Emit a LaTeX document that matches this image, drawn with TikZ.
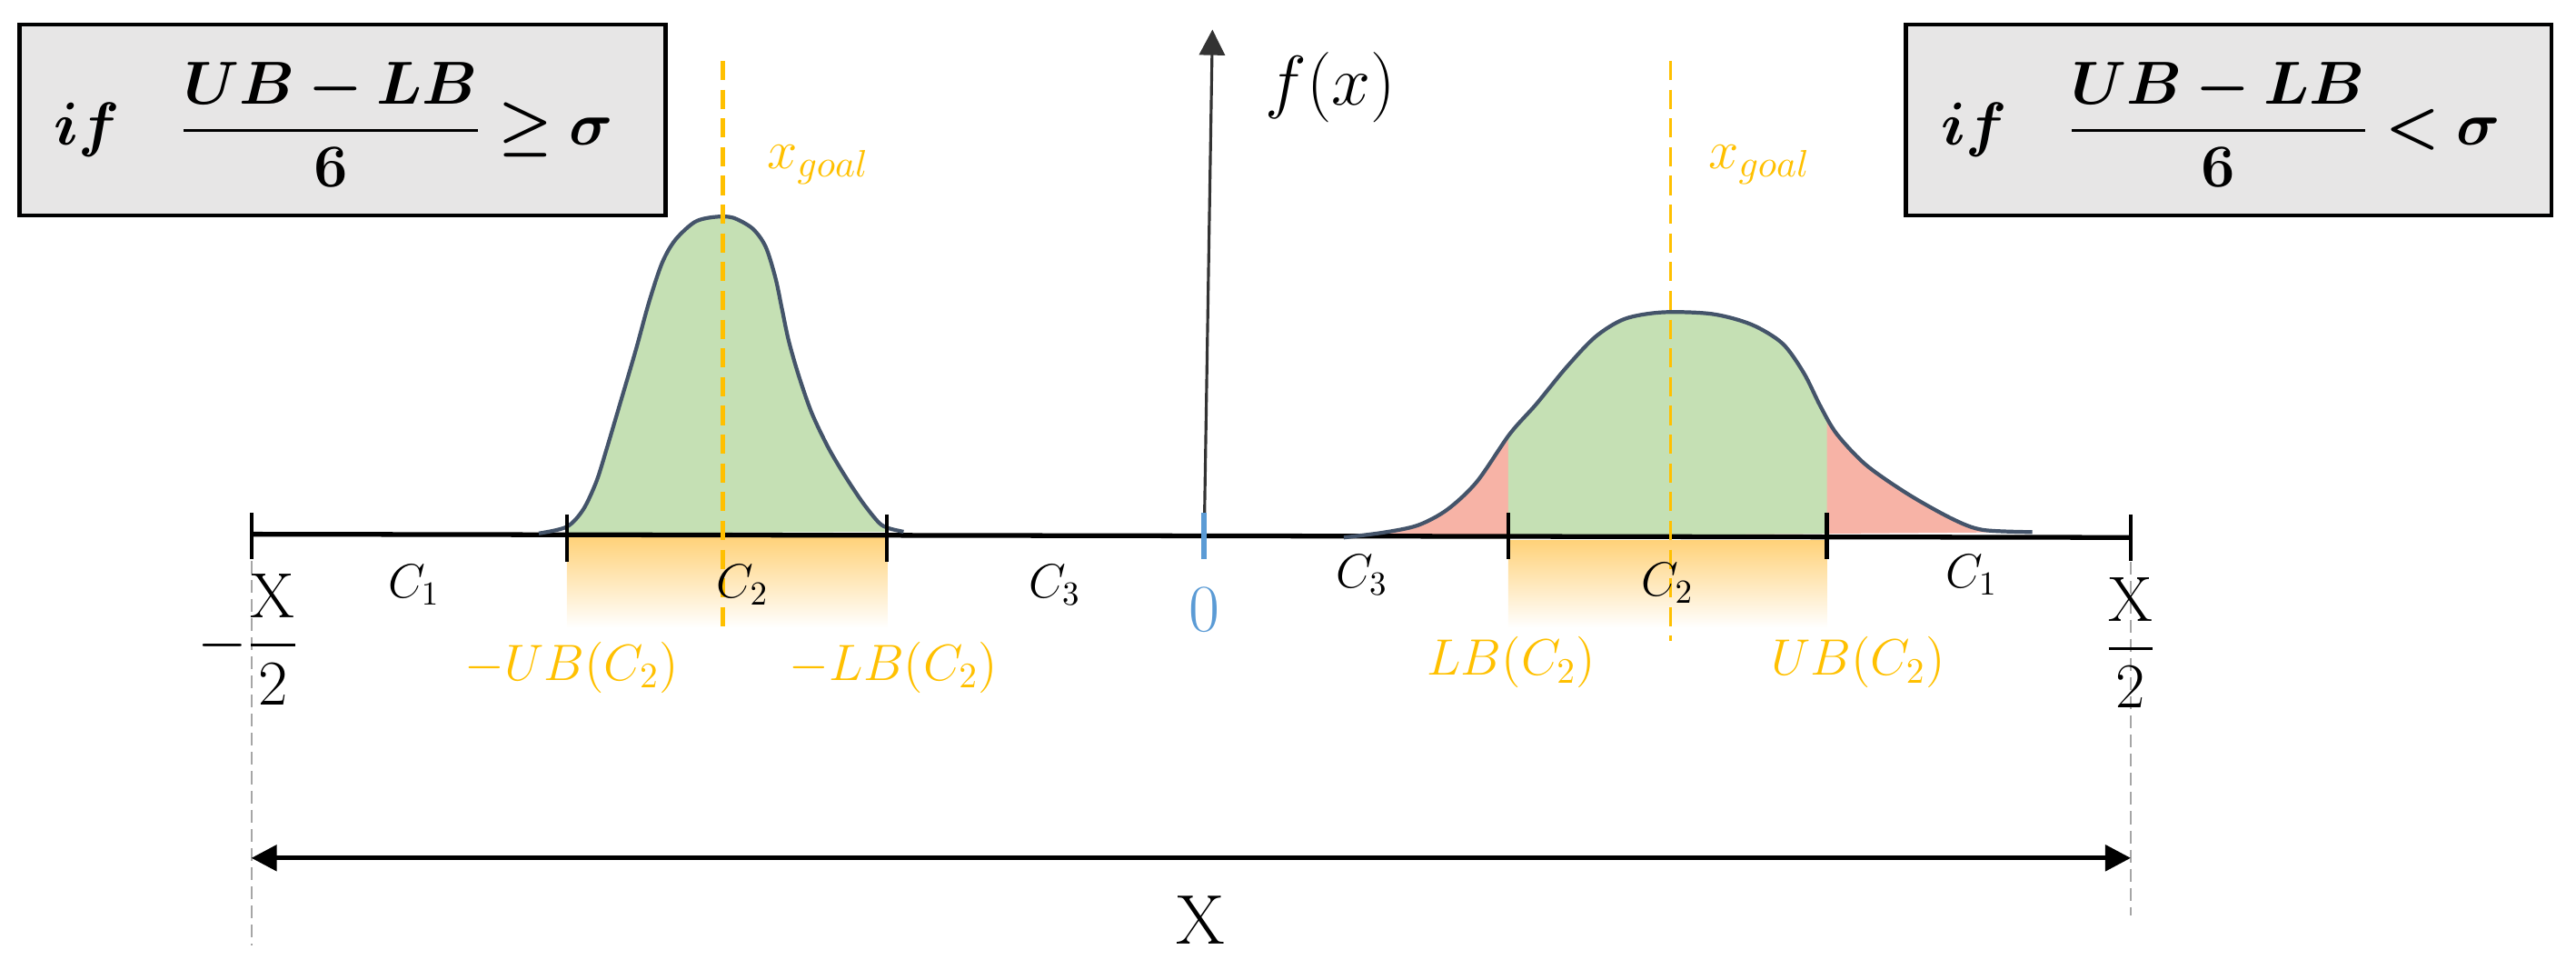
\RequirePackage{fix-cm}
\documentclass[tikz,border=0pt]{standalone}
\usepackage{amsmath,bm}
\usetikzlibrary{arrows.meta}
\definecolor{boxgray}{HTML}{E7E6E6}
\definecolor{gold}{HTML}{FFC000}
\definecolor{greenfill}{HTML}{C5E0B4}
\definecolor{redfill}{HTML}{F7B3A6}
\definecolor{curvecol}{HTML}{44546A}
\definecolor{bluec}{HTML}{5B9BD5}
\definecolor{gradtop}{HTML}{FFD27A}
\newcommand{\condL}{$\bm{if}\quad\dfrac{\bm{UB-LB}}{\bm{6}}\bm{\geq\sigma}$}
\newcommand{\condR}{$\bm{if}\quad\dfrac{\bm{UB-LB}}{\bm{6}}\bm{<\sigma}$}
\begin{document}
\begin{tikzpicture}[x=0.01808cm,y=-0.01808cm,
  condbox/.style={draw=black,line width=1.3pt,fill=boxgray},
  axisline/.style={line width=1.5pt,black},
  tickmark/.style={line width=1.2pt,black},
  goalline/.style={draw=gold,line width=1.2pt,dash pattern=on 6pt off 3pt},
  curveline/.style={draw=curvecol,line width=1.2pt},
  goldlab/.style={text=gold,font=\fontsize{16}{19}\selectfont,inner sep=0pt},
  goallab/.style={text=gold,font=\fontsize{17}{20}\selectfont,inner sep=0pt},
  clab/.style={font=\fontsize{15}{18}\selectfont,inner sep=0pt},
  guide/.style={draw=black!35,line width=0.5pt,dash pattern=on 4pt off 2pt},
  bigfrac/.style={font=\fontsize{20}{24}\selectfont,inner sep=0pt},
  condtext/.style={font=\fontsize{19}{22}\selectfont,inner sep=0pt},
]
\useasboundingbox (0,0) rectangle (1568,590);

% condition boxes
\coordinate (b1a) at (12,15);
\coordinate (b1b) at (405,131);
\coordinate (b2a) at (1160,15);
\coordinate (b2b) at (1553,131);
\draw[condbox] (b1a) rectangle (b1b);
\draw[condbox] (b2a) rectangle (b2b);
\node[condtext] (cl) at (203,76) {\condL};
\node[condtext] (cr) at (1352,76) {\condR};

% gradient bands
\shade[top color=gradtop,bottom color=white] (345,327) rectangle (540,382);
\shade[top color=gradtop,bottom color=white] (918,329) rectangle (1112,382);

% left bell fill
\begin{scope}
\clip (345,0) rectangle (540,330);
\fill[greenfill] plot[smooth] coordinates {(328,324.5) (345,320.5) (355,310) (363,293) (369,274) (377,247) (387,213) (395,184) (403,160) (411,146) (423,135) (435,132) (446,132.4) (458,139) (466,150) (472,169) (476,188) (480,207) (486,228) (494,251) (504,272) (514,289) (525,305.6) (535,318) (541,321.4) (550,323.5)} -- cycle;
\end{scope}

% right bell fill
\fill[redfill] plot[smooth] coordinates {(818,327) (842,324) (863,319.6) (881,310) (899,293) (919,264) (935,246) (953,224) (971,205) (989,194) (1012,190) (1042,191) (1066,197.4) (1085,209) (1098,227) (1108,247) (1118,264) (1136,283) (1162,301) (1189,316) (1207,322.4) (1237,323.7)} -- cycle;
\begin{scope}
\clip (918,0) rectangle (1112,330);
\fill[greenfill] plot[smooth] coordinates {(818,327) (842,324) (863,319.6) (881,310) (899,293) (919,264) (935,246) (953,224) (971,205) (989,194) (1012,190) (1042,191) (1066,197.4) (1085,209) (1098,227) (1108,247) (1118,264) (1136,283) (1162,301) (1189,316) (1207,322.4) (1237,323.7)} -- cycle;
\end{scope}

% horizontal axis
\coordinate (xl) at (153,325);
\coordinate (xr) at (1297,327);
\draw[axisline] (xl) -- (xr);

% curve outlines
\draw[curveline] plot[smooth] coordinates {(328,324.5) (345,320.5) (355,310) (363,293) (369,274) (377,247) (387,213) (395,184) (403,160) (411,146) (423,135) (435,132) (446,132.4) (458,139) (466,150) (472,169) (476,188) (480,207) (486,228) (494,251) (504,272) (514,289) (525,305.6) (535,318) (541,321.4) (550,323.5)};
\draw[curveline] plot[smooth] coordinates {(818,327) (842,324) (863,319.6) (881,310) (899,293) (919,264) (935,246) (953,224) (971,205) (989,194) (1012,190) (1042,191) (1066,197.4) (1085,209) (1098,227) (1108,247) (1118,264) (1136,283) (1162,301) (1189,316) (1207,322.4) (1237,323.7)};

% ticks
\draw[tickmark] (153,312) -- (153,340);
\draw[tickmark] (1297,313) -- (1297,341);
\draw[tickmark] (345,313) -- (345,342);
\draw[tickmark] (540,313) -- (540,342);
\draw[tickmark] (918,312) -- (918,340);
\draw[tickmark] (1112,312) -- (1112,340);

% vertical axis
\coordinate (yb) at (733,325);
\coordinate (yt) at (738,18);
\draw[line width=0.9pt,draw=black!80,-{Triangle[length=8pt,width=8pt]}] (yb) -- (yt);
\draw[bluec,line width=1.8pt] (733,312) -- (733,340);

% goal lines
\draw[goalline] (440,37) -- (440,382);
\draw[goalline,line width=0.8pt] (1017,37) -- (1017,390);

% guides
\draw[guide] (153,341) -- (153,575);
\draw[guide] (1297,342) -- (1297,557);

% width arrow
\coordinate (dl) at (153,522);
\coordinate (dr) at (1297,522);
\draw[line width=1.5pt,{Triangle[length=8pt,width=8pt]}-{Triangle[length=8pt,width=8pt]}] (dl) -- (dr);
\node[font=\fontsize{22}{26}\selectfont,inner sep=0pt] (xw) at (731,560) {X};

% labels
\node[font=\fontsize{22}{26}\selectfont,inner sep=0pt] (fx) at (810,53) {$f(x)$};
\node[goallab] (xgl) at (498,100) {$x_{goal}$};
\node[goallab] (xgr) at (1071,100) {$x_{goal}$};

\node[clab] (c1l) at (252,356) {$C_1$};
\node[clab] (c2l) at (452,356) {$C_2$};
\node[clab] (c3l) at (642,356) {$C_3$};
\node[text=bluec,font=\fontsize{21}{24}\selectfont,inner sep=0pt] (zero) at (733,371) {0};
\node[clab] (c3r) at (829,350) {$C_3$};
\node[clab] (c2r) at (1015,355) {$C_2$};
\node[clab] (c1r) at (1200,350) {$C_1$};

\node[bigfrac] (mx2) at (151,389) {$-\dfrac{\mathrm{X}}{2}$};
\node[bigfrac] (px2) at (1297,391) {$\dfrac{\mathrm{X}}{2}$};

\node[goldlab] (mub) at (348,406) {$-UB(C_2)$};
\node[goldlab] (mlb) at (544,406) {$-LB(C_2)$};
\node[goldlab] (lb) at (920,403) {$LB(C_2)$};
\node[goldlab] (ub) at (1131,403) {$UB(C_2)$};
\end{tikzpicture}
\end{document}
